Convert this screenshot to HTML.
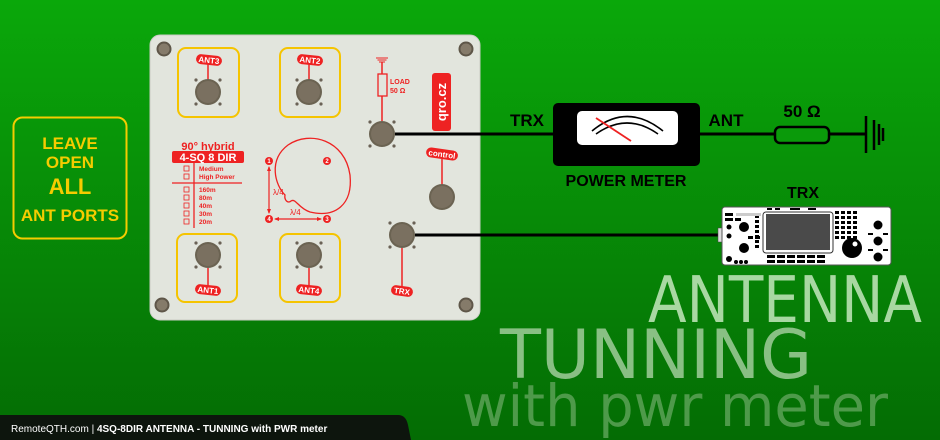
<!DOCTYPE html>
<html><head><meta charset="utf-8"><style>
html,body{margin:0;padding:0;width:940px;height:440px;overflow:hidden}
svg{display:block;font-family:"Liberation Sans",sans-serif}
</style></head><body>
<svg width="940" height="440" viewBox="0 0 940 440" xmlns="http://www.w3.org/2000/svg">
<defs>
<linearGradient id="bg" x1="0" y1="0" x2="0" y2="1">
<stop offset="0" stop-color="#0aa80a"/><stop offset="1" stop-color="#046c04"/>
</linearGradient>
<g id="con"><circle r="13" fill="#6b6352"/><circle r="11" fill="#7a7060"/>
<circle cx="-12" cy="-12" r="1.6" fill="#6a6256"/><circle cx="12" cy="-12" r="1.6" fill="#6a6256"/><circle cx="-12" cy="12" r="1.6" fill="#6a6256"/><circle cx="12" cy="12" r="1.6" fill="#6a6256"/></g>
<g id="scr"><circle r="7.5" fill="#5e5648"/><circle r="5.5" fill="#857b6a"/></g>
</defs>
<rect width="940" height="440" fill="url(#bg)"/>

<rect x="13.5" y="117.5" width="113" height="121" rx="9" fill="none" stroke="#f5cc00" stroke-width="2"/>
<g fill="#f5cc00" font-weight="bold" text-anchor="middle">
<text x="70" y="149" font-size="17">LEAVE</text>
<text x="70" y="168" font-size="17">OPEN</text>
<text x="70" y="194" font-size="22">ALL</text>
<text x="70" y="221" font-size="17">ANT PORTS</text>
</g>

<rect x="150" y="35" width="330" height="285" rx="10" fill="#e2e5dd" stroke="#c9ccc4"/>
<use href="#scr" x="164" y="49"/><use href="#scr" x="466" y="49"/><use href="#scr" x="162" y="305"/><use href="#scr" x="466" y="305"/>
<g fill="none" stroke="#f5c400" stroke-width="2">
<rect x="178" y="48" width="61" height="69" rx="8"/><rect x="280" y="48" width="60" height="69" rx="8"/>
<rect x="177" y="234" width="60" height="68" rx="8"/><rect x="280" y="234" width="60" height="68" rx="8"/>
</g>
<g stroke="#ee2222" stroke-width="1.5">
<line x1="208" y1="60" x2="208" y2="80"/><line x1="309" y1="60" x2="309" y2="80"/>
<line x1="208" y1="268" x2="208" y2="290"/><line x1="309" y1="268" x2="309" y2="290"/>
<line x1="442" y1="154" x2="442" y2="185"/><line x1="402" y1="248" x2="402" y2="290"/>
<line x1="382" y1="62" x2="382" y2="121"/>
</g>
<use href="#con" x="208" y="92"/><use href="#con" x="309" y="92"/><use href="#con" x="208" y="255"/><use href="#con" x="309" y="255"/>
<use href="#con" x="382" y="134"/><use href="#con" x="402" y="235"/>
<circle cx="442" cy="197" r="13" fill="#6b6352"/><circle cx="442" cy="197" r="11" fill="#7a7060"/>
<g font-size="8" font-weight="bold" fill="#fff" text-anchor="middle">
<g transform="translate(209,60) rotate(6)"><rect x="-13" y="-5" width="26" height="10" rx="5" fill="#ee2222"/><text y="3">ANT3</text></g>
<g transform="translate(310,60) rotate(6)"><rect x="-13" y="-5" width="26" height="10" rx="5" fill="#ee2222"/><text y="3">ANT2</text></g>
<g transform="translate(208,290) rotate(6)"><rect x="-13" y="-5" width="26" height="10" rx="5" fill="#ee2222"/><text y="3">ANT1</text></g>
<g transform="translate(309,290) rotate(6)"><rect x="-13" y="-5" width="26" height="10" rx="5" fill="#ee2222"/><text y="3">ANT4</text></g>
<g transform="translate(442,154) rotate(8)"><rect x="-16" y="-5" width="32" height="10" rx="5" fill="#ee2222"/><text y="3">control</text></g>
<g transform="translate(402,291) rotate(8)"><rect x="-11" y="-5" width="22" height="10" rx="5" fill="#ee2222"/><text y="3">TRX</text></g>
</g>
<rect x="378" y="74" width="9" height="22" fill="#e2e5dd" stroke="#ee2222" stroke-width="1.3"/>
<g stroke="#ee2222" stroke-width="1"><line x1="376" y1="58" x2="388" y2="58"/><line x1="377.5" y1="60" x2="386.5" y2="60"/><line x1="379" y1="62" x2="385" y2="62"/></g>
<text x="390" y="84" font-size="7" font-weight="bold" fill="#ee2222">LOAD</text>
<text x="390" y="93" font-size="7" font-weight="bold" fill="#ee2222">50 Ω</text>
<rect x="432" y="73" width="19" height="58" rx="3" fill="#ee2222"/>
<text transform="translate(446,102) rotate(-90)" font-size="13" font-weight="bold" fill="#fff" text-anchor="middle">qro.cz</text>
<text x="208" y="150" font-size="11" font-weight="bold" fill="#ee2222" text-anchor="middle">90° hybrid</text>
<rect x="172" y="151" width="72" height="12" rx="2" fill="#ee2222"/>
<text x="208" y="161" font-size="11" font-weight="bold" fill="#fff" text-anchor="middle">4-SQ  8 DIR</text>
<g stroke="#ee2222" stroke-width="1.3"><line x1="194" y1="163" x2="194" y2="228"/><line x1="172" y1="183" x2="242" y2="183"/></g>
<g fill="none" stroke="#ee2222" stroke-width="0.8">
<rect x="184" y="166" width="5" height="5"/><rect x="184" y="174" width="5" height="5"/>
<rect x="184" y="187" width="5" height="5"/><rect x="184" y="195" width="5" height="5"/><rect x="184" y="203" width="5" height="5"/><rect x="184" y="211" width="5" height="5"/><rect x="184" y="219" width="5" height="5"/>
</g>
<g font-size="6.5" font-weight="bold" fill="#ee2222">
<text x="199" y="171">Medium</text><text x="199" y="179">High Power</text>
<text x="199" y="192">160m</text><text x="199" y="200">80m</text><text x="199" y="208">40m</text><text x="199" y="216">30m</text><text x="199" y="224">20m</text>
</g>
<path d="M285,195 C275,185 268,160 288,145 C310,130 345,140 350,175 C353,205 335,218 310,212 C298,208 296,198 291,201 C288,204 284,200 285,195 Z" fill="none" stroke="#ee2222" stroke-width="1.3"/>
<g stroke="#ee2222" stroke-width="1.2" fill="#ee2222">
<line x1="269" y1="167" x2="269" y2="213"/><line x1="275" y1="219" x2="321" y2="219"/>
<path d="M269,166 l-2,5 h4z M269,214 l-2,-5 h4z M274,219 l5,-2 v4z M322,219 l-5,-2 v4z" stroke="none"/>
</g>
<g fill="#ee2222"><circle cx="269" cy="161" r="4"/><circle cx="327" cy="161" r="4"/><circle cx="269" cy="219" r="4"/><circle cx="327" cy="219" r="4"/></g>
<g font-size="6" font-weight="bold" fill="#fff" text-anchor="middle"><text x="269" y="163">1</text><text x="327" y="163">2</text><text x="269" y="221">4</text><text x="327" y="221">3</text></g>
<text x="273" y="195" font-size="8" fill="#ee2222">λ/4</text>
<text x="290" y="215" font-size="8" fill="#ee2222">λ/4</text>

<g stroke="#000" stroke-width="3"><line x1="395" y1="134" x2="555" y2="134"/><line x1="700" y1="134" x2="866" y2="134"/><line x1="415" y1="235" x2="722" y2="235"/></g>
<rect x="553" y="103" width="147" height="63" rx="5" fill="#000"/>
<rect x="577" y="111" width="101" height="34" rx="5" fill="#fff"/>
<g fill="none" stroke="#000" stroke-width="1.6"><path d="M592,131 Q627,102 663,131"/><path d="M596,134 Q627,112 658,134"/></g>
<line x1="596" y1="118" x2="631" y2="141" stroke="#ee2222" stroke-width="1.8"/>
<g font-weight="bold" fill="#000" text-anchor="middle">
<text x="527" y="126" font-size="17">TRX</text><text x="726" y="126" font-size="17">ANT</text>
<text x="802" y="117" font-size="17">50 Ω</text><text x="626" y="186" font-size="16">POWER METER</text>
<text x="803" y="198" font-size="16">TRX</text>
</g>
<rect x="775" y="127" width="54" height="16" rx="5" fill="#0a9a0a" stroke="#000" stroke-width="2.5"/>
<g stroke="#000" stroke-width="2.5"><line x1="866" y1="116" x2="866" y2="153"/><line x1="874" y1="120" x2="874" y2="150"/><line x1="879" y1="124" x2="879" y2="145"/><line x1="883" y1="128" x2="883" y2="141"/></g>
<!-- radio -->
<rect x="718" y="228" width="5" height="14" fill="#ddd" stroke="#444" stroke-width="0.5"/>
<rect x="722" y="207" width="169" height="58" rx="3" fill="#fff" stroke="#555"/>
<rect x="763" y="212" width="70" height="41" rx="3" fill="#fff" stroke="#333"/>
<rect x="766" y="214" width="64" height="36" fill="#4a4a4a"/>
<g fill="#000">
<rect x="767" y="208" width="5" height="2"/><rect x="775" y="208" width="5" height="2"/><rect x="790" y="208" width="10" height="2"/><rect x="808" y="208" width="8" height="2"/>
<g id="kp"><rect x="835" y="211" width="4" height="3"/><rect x="841" y="211" width="4" height="3"/><rect x="847" y="211" width="4" height="3"/><rect x="853" y="211" width="4" height="3"/></g>
<use href="#kp" y="5"/><use href="#kp" y="10"/><use href="#kp" y="15"/><use href="#kp" y="20"/><use href="#kp" y="25"/>
<circle cx="744" cy="227" r="5"/><circle cx="744" cy="248" r="5"/><circle cx="852" cy="248" r="10"/><circle cx="878" cy="225" r="4.5"/><circle cx="878" cy="241" r="4.5"/><circle cx="878" cy="257" r="4.5"/>
<circle cx="729" cy="227" r="2.5"/><circle cx="729" cy="236" r="2.5"/><circle cx="729" cy="259" r="3"/>
<rect x="868" y="233" width="5" height="2"/><rect x="883" y="233" width="5" height="2"/><rect x="868" y="249" width="5" height="2"/><rect x="883" y="249" width="5" height="2"/>
<rect x="767" y="255" width="8" height="3"/><rect x="777" y="255" width="8" height="3"/><rect x="787" y="255" width="8" height="3"/><rect x="797" y="255" width="8" height="3"/><rect x="807" y="255" width="8" height="3"/><rect x="817" y="255" width="8" height="3"/>
<rect x="767" y="260" width="8" height="3"/><rect x="777" y="260" width="8" height="3"/><rect x="787" y="260" width="8" height="3"/><rect x="797" y="260" width="8" height="3"/><rect x="807" y="260" width="8" height="3"/><rect x="817" y="260" width="8" height="3"/>
<rect x="755" y="215" width="4" height="3"/><rect x="755" y="220" width="4" height="3"/><rect x="755" y="225" width="4" height="3"/><rect x="755" y="230" width="4" height="3"/><rect x="755" y="235" width="4" height="3"/><rect x="755" y="240" width="4" height="3"/><rect x="755" y="245" width="4" height="3"/>
<rect x="725" y="213" width="8" height="3"/><rect x="736" y="213" width="25" height="3" fill="#ccc"/>
<rect x="725" y="218" width="8" height="3"/><rect x="735" y="218" width="6" height="3"/>
<rect x="748" y="236" width="5" height="3"/><rect x="755" y="236" width="5" height="3"/>
<circle cx="736" cy="262" r="2"/><circle cx="741" cy="262" r="2"/><circle cx="746" cy="262" r="2"/>
</g>
<circle cx="855" cy="244" r="2.5" fill="#fff"/>

<text x="648" y="322" font-family="DejaVu Sans,sans-serif" font-size="64" fill="#a8d8a2" textLength="274" lengthAdjust="spacingAndGlyphs">ANTENNA</text>
<text x="500" y="378" font-family="DejaVu Sans,sans-serif" font-size="68" fill="#98c892" fill-opacity="0.9" textLength="312" lengthAdjust="spacingAndGlyphs">TUNNING</text>
<text x="462" y="426" font-family="DejaVu Sans,sans-serif" font-size="58" fill="#4e9a4a" textLength="426" lengthAdjust="spacingAndGlyphs">with pwr meter</text>

<path d="M0,415 H398 Q406,415 408,425 L411,440 H0 Z" fill="#0d150d"/>
<text x="11" y="432" font-size="10" fill="#fff">RemoteQTH.com | <tspan font-weight="bold">4SQ-8DIR ANTENNA - TUNNING with PWR meter</tspan></text>
</svg>
</body></html>
